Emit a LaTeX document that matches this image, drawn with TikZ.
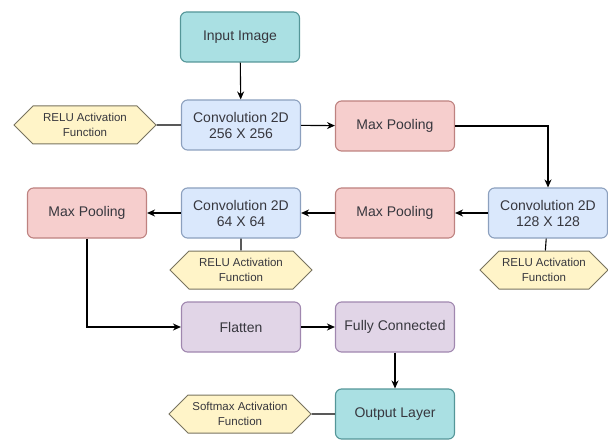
\documentclass[tikz,border=0pt]{standalone}
\usepackage{fontspec}
\setmainfont{Liberation Sans}
\usetikzlibrary{arrows.meta,shapes.symbols}
\definecolor{tealfill}{RGB}{170,224,227}
\definecolor{tealdraw}{RGB}{84,150,152}
\definecolor{bluefill}{RGB}{218,232,252}
\definecolor{bluedraw}{RGB}{140,160,190}
\definecolor{redfill}{RGB}{246,206,205}
\definecolor{reddraw}{RGB}{190,130,128}
\definecolor{purpfill}{RGB}{225,213,231}
\definecolor{purpdraw}{RGB}{160,135,175}
\definecolor{yelfill}{RGB}{255,244,200}
\definecolor{yeldraw}{RGB}{120,115,95}
\definecolor{txt}{RGB}{55,55,62}
\tikzset{
  blk/.style={rounded corners=6pt,line width=1.1pt,minimum width=119pt,minimum height=50pt,inner sep=2pt,align=center,text=txt,font=\fontsize{14}{16}\selectfont},
  io/.style={blk,fill=tealfill,draw=tealdraw},
  conv/.style={blk,fill=bluefill,draw=bluedraw},
  pool/.style={blk,fill=redfill,draw=reddraw},
  dense/.style={blk,fill=purpfill,draw=purpdraw},
  act/.style={shape=signal,signal to=west and east,signal pointer angle=90,fill=yelfill,draw=yeldraw,line width=1pt,minimum width=142pt,minimum height=38pt,inner sep=0pt,align=center,text=txt,font=\fontsize{11.5}{15}\selectfont},
  flow/.style={line width=1.1pt,-{Stealth[length=8pt,width=7pt]}},
  link/.style={line width=1.1pt}
}
\begin{document}
\begin{tikzpicture}[x=1pt,y=-1pt]
  \useasboundingbox (0,0) rectangle (608,441);
  \node[io] (inp) at (240,37) {Input Image};
  \node[conv] (conva) at (241,125) {Convolution 2D\\256 X 256};
  \node[act] (relua) at (85,125) {RELU Activation\\Function};
  \node[pool] (poola) at (395,126) {Max Pooling};
  \node[conv] (convb) at (548,213) {Convolution 2D\\128 X 128};
  \node[act,minimum width=128pt] (relub) at (544,270) {RELU Activation\\Function};
  \node[pool] (poolb) at (395,213) {Max Pooling};
  \node[conv] (convc) at (241,213) {Convolution 2D\\64 X 64};
  \node[act] (reluc) at (241,270) {RELU Activation\\Function};
  \node[pool] (poolc) at (87,213) {Max Pooling};
  \node[dense] (flat) at (241,327) {Flatten};
  \node[dense] (fc) at (395,327) {Fully Connected};
  \node[io] (outl) at (395,414) {Output Layer};
  \node[act] (soft) at (240,414) {Softmax Activation\\Function};
  % main path
  \draw[flow] (inp) -- (conva);
  \draw[flow] (conva) -- (poola);
  \draw[flow] (poola) -| (convb);
  \draw[flow] (convb) -- (poolb);
  \draw[flow] (poolb) -- (convc);
  \draw[flow] (convc) -- (poolc);
  \draw[flow] (poolc) |- (flat);
  \draw[flow] (flat) -- (fc);
  \draw[flow] (fc) -- (outl);
  % activations
  \draw[link] (relua) -- (conva);
  \draw[link] (convb) -- (relub);
  \draw[link] (convc) -- (reluc);
  \draw[link] (soft) -- (outl);
\end{tikzpicture}
\end{document}
